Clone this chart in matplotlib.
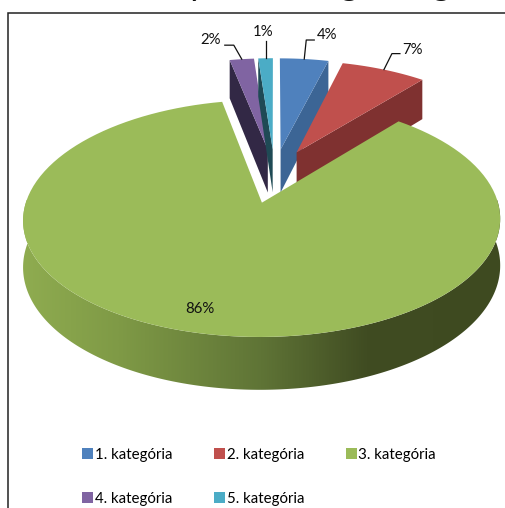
import numpy as np
import matplotlib
matplotlib.use("Agg")
import matplotlib.pyplot as plt
from matplotlib.patches import Polygon, Patch
from matplotlib.colors import LinearSegmentedColormap

categories = ["1. kategória", "2. kategória", "3. kategória", "4. kategória", "5. kategória"]
values = [4.0, 7.0, 85.8, 2.0, 1.2]
labels = ["4%", "7%", "86%", "2%", "1%"]
top_colors = ["#4F81BD", "#C0504D", "#9BBB59", "#8064A2", "#4BACC6"]
wall_colors = ["#3C6595", "#7F3130", "#5F7530", "#322845", "#1F4A55"]
title_fragments = ["y", "g", "g"]

plt.rcParams["font.family"] = ["Lato", "DejaVu Sans"]
FS = 10.8
CX, CY, RX, RY, KX, KY, EXPL, DEPTH = 274.5, 178.5, 229.0, 110.0, 0.14, 0.13, 0.22, 44.5
EXPL_Y = [0.275, 0.275, 0.22, 0.275, 0.275]

fig = plt.figure(figsize=(5.06, 5.08), dpi=100)
ax = fig.add_axes([0, 0, 1, 1])
ax.set_xlim(0, 506)
ax.set_ylim(508, 0)
ax.axis("off")


def project(x, y, z=0.0):
    x, y = np.asarray(x, float), np.asarray(y, float)
    sy = 1 + KY * y
    return CX + RX * x / (1 + KX * y), CY - (RY * y - z * DEPTH) / sy


fr = np.array(values, float) / sum(values) * 2 * np.pi
ends = np.cumsum(fr)
starts = ends - fr
mids = (starts + ends) / 2


def offs(i):
    return EXPL * np.sin(mids[i]), EXPL_Y[i] * np.cos(mids[i])


def arc(i, n=120):
    t = np.linspace(starts[i], ends[i], n)
    ox, oy = offs(i)
    return ox + np.sin(t), oy + np.cos(t)


def wall(i, edge, zo):
    ox, oy = offs(i)
    ang = starts[i] if edge == "start" else ends[i]
    ex, ey = ox + np.sin(ang), oy + np.cos(ang)
    p = [project(ox, oy), project(ex, ey), project(ex, ey, 1), project(ox, oy, 1)]
    ax.add_patch(Polygon([(float(a), float(b)) for a, b in p], closed=True, fc=wall_colors[i], ec="none", zorder=zo))


def top(i, zo):
    x, y = arc(i)
    ox, oy = offs(i)
    sx, sy = project(np.r_[ox, x], np.r_[oy, y])
    ax.add_patch(Polygon(np.c_[sx, sy], closed=True, fc=top_colors[i], ec="none", zorder=zo))


# back slices: purple, teal, blue, red; then the large front slice
wall_edges = {3: "start", 4: "start", 0: "end", 1: "end"}
for k, i in enumerate([3, 4, 0, 1]):
    wall(i, wall_edges[i], 2 + 2 * k)
    top(i, 3 + 2 * k)

# rim of the large slice, shaded left to right
g = 2
x, y = arc(g, 600)
keep = y < 0.35
sx, sy = project(x[keep], y[keep])
bx, by = project(x[keep], y[keep], 1)
rim = Polygon(np.r_[np.c_[sx, sy], np.c_[bx, by][::-1]], closed=True, fc="none", ec="none",
              transform=ax.transData, zorder=11)
ax.add_patch(rim)
cmap = LinearSegmentedColormap.from_list("rim", [(0.0, "#8FAC50"), (0.2, "#7F9A46"), (0.5, "#5F7436"),
                                                 (0.72, "#404C22"), (1.0, "#3E4A20")])
im = ax.imshow(np.linspace(0, 1, 512)[None, :], cmap=cmap, extent=(22, 501, 400, 200), aspect="auto",
               zorder=11, interpolation="bilinear")
im.set_clip_path(rim)
ax.set_xlim(0, 506)
ax.set_ylim(508, 0)
top(g, 12)

# data labels and leader lines: elbow offsets from the rim midpoint
label_offsets = {0: (2, -19, 10, -19), 1: (8, -16, 16, -16), 3: (-8, -14, -17, -14), 4: (0, -17, 0, -17)}
text_offsets = {0: (23, -24), 1: (29, -20), 3: (-31, -19), 4: (-2, -26)}
for i in label_offsets:
    ox, oy = offs(i)
    ax_, ay_ = project(ox + np.sin(mids[i]), oy + np.cos(mids[i]))
    a, b, c, d = label_offsets[i]
    ax.plot([ax_, ax_ + a, ax_ + c], [ay_, ay_ + b, ay_ + d], color="#111111", lw=0.9, zorder=20)
    tx, ty = text_offsets[i]
    ax.text(ax_ + tx, ay_ + ty, labels[i], ha="center", va="center", fontsize=FS, color="#111111", zorder=21)
ax.text(200, 309, labels[2], ha="center", va="center", fontsize=FS, color="#111111", zorder=21)

# chart frame (left and top sides are what the crop shows)
ax.plot([8, 8, 506], [508, 12.5, 12.5], color="#222222", lw=1.1, zorder=1, solid_joinstyle="miter")

# title glyphs cut by the top of the picture, as in the reference
for ch, tx in zip(title_fragments, [197, 349, 441]):
    ax.text(tx, -5, ch, ha="center", va="baseline", fontsize=26, color="#111111")

# legend, in column order so it reads row by row
order = [0, 3, 1, 4, 2]
handles = [Patch(fc=top_colors[i], ec="none") for i in order]
ax.legend(handles, [categories[i] for i in order], ncol=3, frameon=False, fontsize=FS,
          loc="upper left", bbox_to_anchor=(69 / 506, 1 - 434 / 508), bbox_transform=fig.transFigure,
          handlelength=0.7, handleheight=0.7, handletextpad=0.12, columnspacing=2.8, labelspacing=2.0)

fig.savefig("out.png", dpi=100)
